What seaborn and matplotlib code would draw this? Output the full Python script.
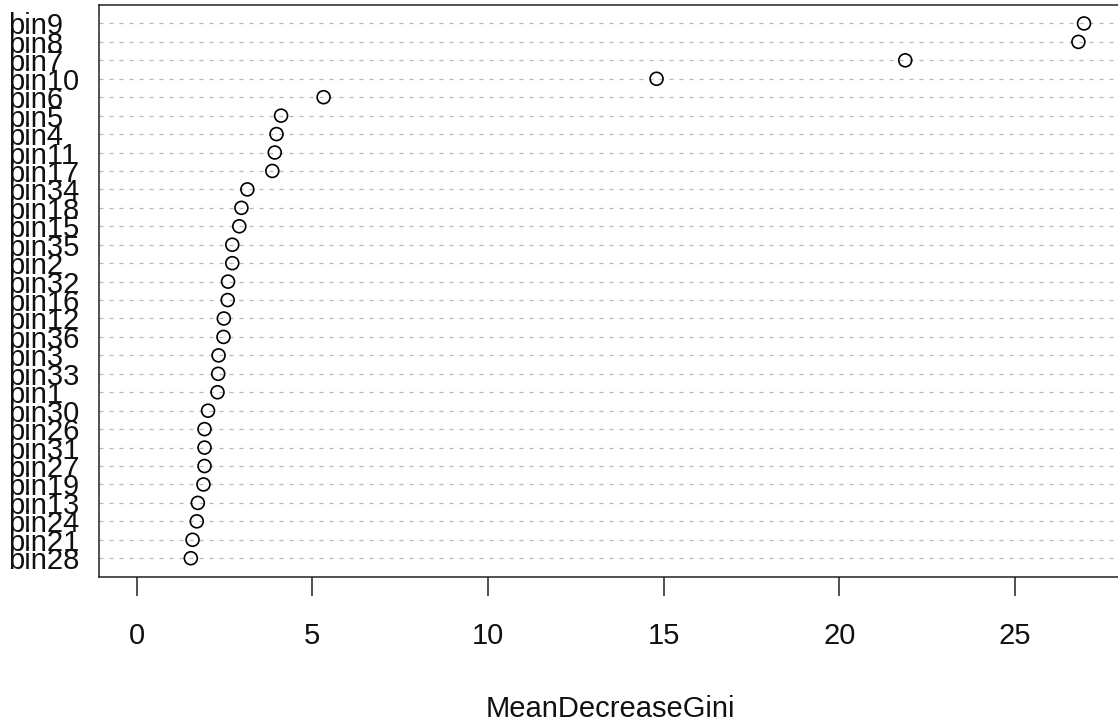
import matplotlib
matplotlib.use("Agg")
import matplotlib.pyplot as plt
import seaborn as sns
import pandas as pd

# Data (ordered top to bottom as in the chart)
labels = ["bin9", "bin8", "bin7", "bin10", "bin6", "bin5", "bin4", "bin11", "bin17",
          "bin34", "bin18", "bin15", "bin35", "bin2", "bin32", "bin16", "bin12", "bin36",
          "bin3", "bin33", "bin1", "bin30", "bin26", "bin31", "bin27", "bin19", "bin13",
          "bin24", "bin21", "bin28"]
values = [26.97, 26.81, 21.88, 14.80, 5.32, 4.11, 3.98, 3.93, 3.86,
          3.15, 2.98, 2.92, 2.72, 2.72, 2.60, 2.59, 2.48, 2.47,
          2.33, 2.32, 2.30, 2.03, 1.93, 1.93, 1.93, 1.90, 1.74,
          1.71, 1.59, 1.54]
x_ticks = [0, 5, 10, 15, 20, 25]
x_label = "MeanDecreaseGini"

sns.set_theme(style="white")
plt.rcParams["font.family"] = ["Liberation Sans", "DejaVu Sans"]
plt.rcParams["lines.scale_dashes"] = False

df = pd.DataFrame({"label": labels, "value": values})

fig = plt.figure(figsize=(11.18, 7.25), dpi=100)
ax = fig.add_axes([0.0884, 0.2046, 0.9151, 0.7885])

sns.stripplot(data=df, x="value", y="label", order=labels, orient="h",
              jitter=False, size=9.3, color="white", linewidth=1.2,
              edgecolor="black", ax=ax, zorder=3)
for coll in ax.collections:
    coll.set_facecolor("none")
    coll.set_edgecolor("black")
    coll.set_linewidth(1.2)

vmax = max(values)
ext = 0.04 * vmax
ax.set_xlim(-ext, vmax + ext)
ax.set_ylim(len(labels), -1)

ax.set_xticks(x_ticks)
ax.set_xticklabels([str(t) for t in x_ticks])
ax.tick_params(axis="x", direction="out", length=13.7, width=1.1, color="#222222",
               pad=19, labelsize=21, labelcolor="#111111", bottom=True)
ax.tick_params(axis="y", length=0, pad=65.2, labelsize=21, labelcolor="#111111")
for t in ax.get_yticklabels():
    t.set_horizontalalignment("left")

ax.yaxis.grid(True, linestyle=(0, (2.9, 4.3)), color="#B8B8B8", linewidth=0.9)
ax.xaxis.grid(False)
ax.set_axisbelow(True)

for side in ["top", "left", "bottom"]:
    ax.spines[side].set_visible(True)
    ax.spines[side].set_color("#222222")
    ax.spines[side].set_linewidth(1.1)
ax.spines["right"].set_visible(False)

ax.set_xlabel(x_label, fontsize=21, color="#111111", labelpad=32)
ax.set_ylabel("")

fig.savefig("out.png", dpi=100)
